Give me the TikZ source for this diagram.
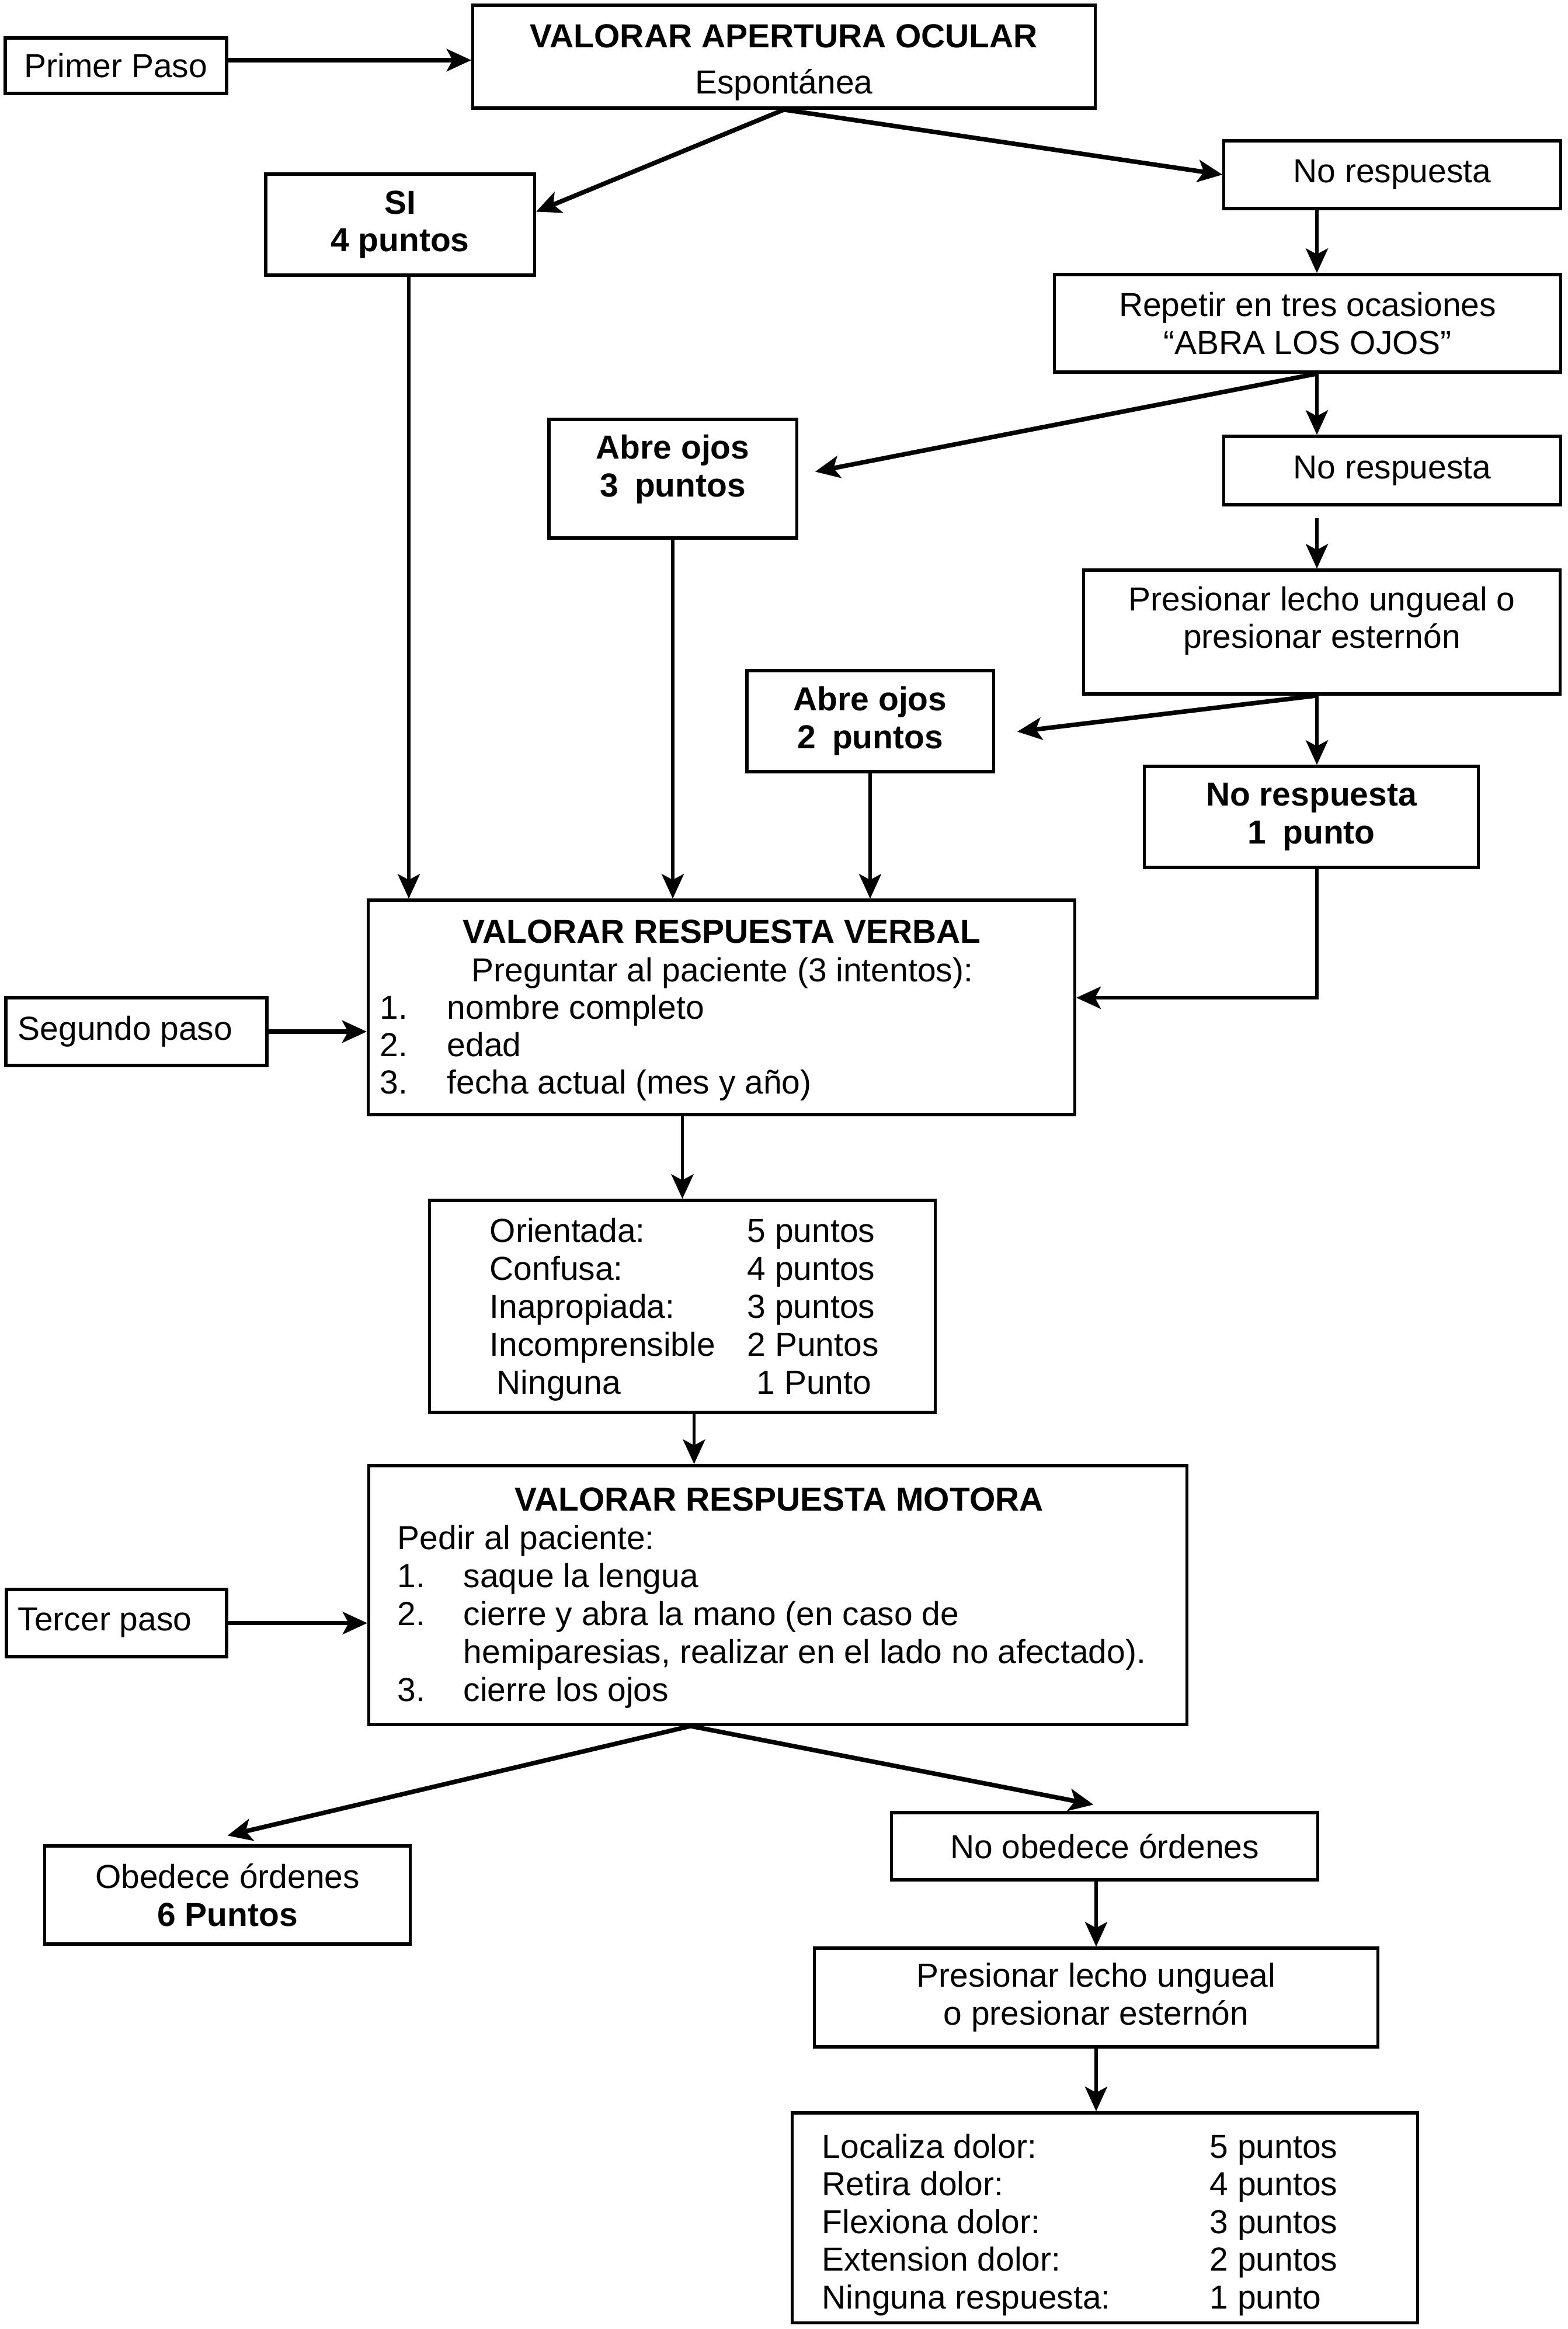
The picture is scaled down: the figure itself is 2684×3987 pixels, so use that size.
\documentclass[tikz,border=0pt]{standalone}
\usepackage{fontspec}
\setmainfont{Liberation Sans}
\usetikzlibrary{arrows.meta,calc}
\newcommand\myfs{\fontsize{16.2}{18.4}\selectfont}
\begin{document}
\begin{tikzpicture}[x=0.01cm,y=-0.01cm,
  box/.style={draw, line width=1.5pt, inner sep=0pt, align=center, font=\myfs},
  bbox/.style={box, font=\myfs\bfseries},
  txt/.style={font=\myfs, inner sep=0pt, anchor=base west},
  ttl/.style={font=\myfs\bfseries, inner sep=0pt, anchor=base},
  ctr/.style={font=\myfs, inner sep=0pt, anchor=base},
  arr/.style={line width=1.6pt, -{Stealth[length=0.42cm,width=0.38cm,inset=0.1cm]}},
  thk/.style={arr, line width=2.2pt}]
\useasboundingbox (0,0) rectangle (2684,3987);
\fill[white] (0,0) rectangle (2684,3987);

% boxes
\node[box, minimum width=3.79cm, minimum height=0.95cm] (prim) at (198.5,112.5) {Primer Paso};
\node[box, minimum width=10.65cm, minimum height=1.76cm] (apert) at (1342.5,97) {\rule{0pt}{0.6cm}\textbf{VALORAR APERTURA OCULAR}\\[0.15cm]Espontánea};
\node[bbox, minimum width=4.6cm, minimum height=1.73cm] (si) at (685,384.5) {SI\\4 puntos};
\node[box, minimum width=5.76cm, minimum height=1.16cm] (nr1) at (2384,299) {No respuesta};
\node[box, minimum width=8.66cm, minimum height=1.67cm] (rep) at (2239,553.5) {Repetir en tres ocasiones\\“ABRA LOS OJOS”};
\node[box, minimum width=5.76cm, minimum height=1.17cm] (nr2) at (2384,805.5) {No respuesta};
\node[bbox, minimum width=4.24cm, minimum height=2.03cm] (ab3) at (1152,819.5) {Abre ojos\\3\enspace puntos\rule[-0.44cm]{0pt}{0pt}};
\node[box, minimum width=8.15cm, minimum height=2.12cm] (pres1) at (2263.5,1082) {Presionar lecho ungueal o\\presionar esternón\rule[-0.5cm]{0pt}{0pt}};
\node[bbox, minimum width=4.22cm, minimum height=1.73cm] (ab2) at (1490,1234.5) {Abre ojos\\2\enspace puntos};
\node[bbox, minimum width=5.71cm, minimum height=1.73cm] (nr3) at (2245.5,1398.5) {No respuesta\\1\enspace punto};
\node[box, minimum width=12.09cm, minimum height=3.67cm] (verbal) at (1235.5,1724.5) {};
\node[box, minimum width=4.47cm, minimum height=1.16cm] (seg) at (233.5,1766) {};
\node[box, minimum width=8.65cm, minimum height=3.63cm] (tab1) at (1168.5,2236.5) {};
\node[box, minimum width=14.00cm, minimum height=4.43cm] (motora) at (1332,2730.5) {};
\node[box, minimum width=3.77cm, minimum height=1.15cm] (ter) at (199.5,2778.5) {};
\node[box, minimum width=6.25cm, minimum height=1.68cm] (obed) at (389.5,3244) {Obedece órdenes\\\textbf{6 Puntos}};
\node[box, minimum width=7.29cm, minimum height=1.15cm] (noob) at (1891.5,3160.5) {No obedece órdenes};
\node[box, minimum width=9.64cm, minimum height=1.69cm] (pres2) at (1877,3419.5) {Presionar lecho ungueal\\o presionar esternón};
\node[box, minimum width=10.70cm, minimum height=3.59cm] (tab2) at (1892,3796.5) {};

% step labels
\node[txt, anchor=west] (segt) at (30,1766) {Segundo paso};
\node[txt, anchor=west] (tert) at (30,2778) {Tercer paso};

% verbal box text
\node[ttl] (vt) at (1236,1614) {VALORAR RESPUESTA VERBAL};
\node[ctr] (vp) at (1237,1680) {Preguntar al paciente (3 intentos):};
\node[txt] (v1n) at (650,1744) {1.};
\node[txt] (v1) at (765,1744) {nombre completo};
\node[txt] (v2n) at (650,1808) {2.};
\node[txt] (v2) at (765,1808) {edad};
\node[txt] (v3n) at (650,1872) {3.};
\node[txt] (v3) at (765,1872) {fecha actual (mes y año)};

% table 1
\node[txt] (t1a) at (838,2126) {Orientada:};
\node[txt] (t1b) at (838,2191) {Confusa:};
\node[txt] (t1c) at (838,2256) {Inapropiada:};
\node[txt] (t1d) at (838,2321) {Incomprensible};
\node[txt] (t1e) at (850,2386) {Ninguna};
\node[txt] (t1av) at (1279,2126) {5 puntos};
\node[txt] (t1bv) at (1279,2191) {4 puntos};
\node[txt] (t1cv) at (1279,2256) {3 puntos};
\node[txt] (t1dv) at (1279,2321) {2 Puntos};
\node[txt] (t1ev) at (1295,2386) {1 Punto};

% motora box text
\node[ttl] (mt) at (1334,2586) {VALORAR RESPUESTA MOTORA};
\node[txt] (mp) at (680,2652) {Pedir al paciente:};
\node[txt] (m1n) at (680,2717) {1.};
\node[txt] (m1) at (793,2717) {saque la lengua};
\node[txt] (m2n) at (680,2782) {2.};
\node[txt] (m2) at (793,2782) {cierre y abra la mano (en caso de};
\node[txt] (m2b) at (793,2847) {hemiparesias, realizar en el lado no afectado).};
\node[txt] (m3n) at (680,2912) {3.};
\node[txt] (m3) at (793,2912) {cierre los ojos};

% table 2
\node[txt] (t2a) at (1407,3694) {Localiza dolor:};
\node[txt] (t2b) at (1407,3758) {Retira dolor:};
\node[txt] (t2c) at (1407,3823) {Flexiona dolor:};
\node[txt] (t2d) at (1407,3887) {Extension dolor:};
\node[txt] (t2e) at (1407,3952) {Ninguna respuesta:};
\node[txt] (t2av) at (2071,3694) {5 puntos};
\node[txt] (t2bv) at (2071,3758) {4 puntos};
\node[txt] (t2cv) at (2071,3823) {3 puntos};
\node[txt] (t2dv) at (2071,3887) {2 puntos};
\node[txt] (t2ev) at (2071,3952) {1 punto};

% connectors
\coordinate (sp) at (2255,0);
\coordinate (mb) at ($(motora.south west)!0.3936!(motora.south east)$);
\draw[thk] ([yshift=0.095cm]prim.east) -- ([yshift=0.095cm]prim.east -| apert.west);
\draw[thk] (apert.south) -- ([yshift=0.22cm]si.east);
\draw[thk] (apert.south) -- (nr1.west);
\draw[arr] (nr1.south -| sp) -- (rep.north -| sp);
\draw[thk] (rep.south -| sp) -- ([xshift=0.29cm,yshift=0.12cm]ab3.east);
\draw[arr] (rep.south -| sp) -- (nr2.north -| sp);
\draw[arr, shorten <=0.2cm] (nr2.south -| sp) -- (pres1.north -| sp);
\draw[thk] (pres1.south -| sp) -- ([xshift=0.38cm,yshift=-0.18cm]ab2.east);
\draw[arr] (pres1.south -| sp) -- (nr3.north -| sp);
\draw[arr] (nr3.south -| sp) |- ([yshift=0.165cm]verbal.east);
\draw[arr] ([xshift=0.15cm]si.south) -- ([xshift=0.15cm]si.south |- verbal.north);
\draw[arr] (ab3.south) -- (ab3.south |- verbal.north);
\draw[arr] (ab2.south) -- (ab2.south |- verbal.north);
\draw[thk] (seg.east) -- (seg.east -| verbal.west);
\draw[arr] (tab1.north |- verbal.south) -- (tab1.north);
\draw[arr] ([xshift=0.2cm]tab1.south) -- ([xshift=0.2cm]tab1.south |- motora.north);
\draw[thk] (ter.east) -- (ter.east -| motora.west);
\draw[thk] (mb) -- ([yshift=0.15cm]obed.north);
\draw[thk] (mb) -- ([xshift=-0.19cm,yshift=0.11cm]noob.north);
\draw[arr] (pres2.north |- noob.south) -- (pres2.north);
\draw[arr] (pres2.south) -- (pres2.south |- tab2.north);
\end{tikzpicture}
\end{document}
